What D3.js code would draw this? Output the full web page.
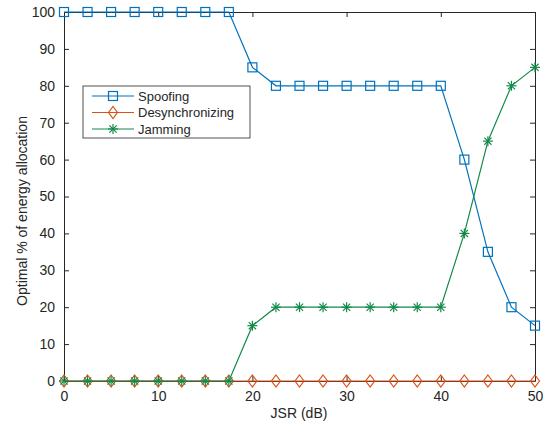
<!DOCTYPE html>
<html>
<head>
<meta charset="utf-8">
<script src="https://cdn.jsdelivr.net/npm/d3@7"></script>
<style>
  body { margin: 0; background: #fff; }
  text { font-family: "Liberation Sans", Arial, sans-serif; }
</style>
</head>
<body>
<div class="canvas"></div>
<script>
// JSR values (dB)
const jsr = [0, 2.5, 5, 7.5, 10, 12.5, 15, 17.5, 20, 22.5, 25, 27.5, 30, 32.5, 35, 37.5, 40, 42.5, 45, 47.5, 50];
const spoofing = [100, 100, 100, 100, 100, 100, 100, 100, 85, 80, 80, 80, 80, 80, 80, 80, 80, 60, 35, 20, 15];
const desync = [0, 0, 0, 0, 0, 0, 0, 0, 0, 0, 0, 0, 0, 0, 0, 0, 0, 0, 0, 0, 0];
const jamming = [0, 0, 0, 0, 0, 0, 0, 0, 15, 20, 20, 20, 20, 20, 20, 20, 20, 40, 65, 80, 85];
const xTicks = [0, 10, 20, 30, 40, 50];
const yTicks = [0, 10, 20, 30, 40, 50, 60, 70, 80, 90, 100];
const seriesNames = ['Spoofing', 'Desynchronizing', 'Jamming'];

const W = 544, H = 424;
const margin = {top: 12, right: 9, bottom: 43, left: 64};
const graphWidth = W - margin.left - margin.right;
const graphHeight = H - margin.top - margin.bottom;

const svg = d3.select('.canvas')
  .append('svg')
    .attr('width', W)
    .attr('height', H);

const graph = svg.append('g')
  .attr('transform', `translate(${margin.left},${margin.top})`);

const x = d3.scaleLinear().domain([0, 50]).range([0, graphWidth]);
const y = d3.scaleLinear().domain([0, 100]).range([graphHeight, 0]);

const axisColor = '#262626';

// axes with inward ticks (box style)
const styleAxis = g => {
  g.select('.domain').attr('stroke', axisColor);
  g.selectAll('.tick line').attr('stroke', axisColor);
  g.selectAll('.tick text').attr('fill', axisColor).style('font-size', '14px');
};
graph.append('g')
  .attr('transform', `translate(0,${graphHeight})`)
  .call(d3.axisBottom(x).tickValues(xTicks).tickSizeInner(-5).tickSizeOuter(0).tickPadding(10))
  .call(styleAxis);
graph.append('g')
  .call(d3.axisLeft(y).tickValues(yTicks).tickSizeInner(-5).tickSizeOuter(0).tickPadding(9))
  .call(styleAxis);
graph.append('g')
  .call(d3.axisTop(x).tickValues(xTicks).tickSizeInner(-5).tickSizeOuter(0).tickFormat(''))
  .call(styleAxis);
graph.append('g')
  .attr('transform', `translate(${graphWidth},0)`)
  .call(d3.axisRight(y).tickValues(yTicks).tickSizeInner(-5).tickSizeOuter(0).tickFormat(''))
  .call(styleAxis);

// axis labels
svg.append('text')
  .attr('x', 299)
  .attr('y', 418)
  .attr('text-anchor', 'middle')
  .attr('fill', axisColor)
  .style('font-size', '14px')
  .text('JSR (dB)');
svg.append('text')
  .attr('transform', 'translate(27,211) rotate(-90)')
  .attr('text-anchor', 'middle')
  .attr('fill', axisColor)
  .style('font-size', '14px')
  .text('Optimal % of energy allocation');

const colors = ['#0072BD', '#D95319', '#138a48'];
const markerShapes = ['square', 'diamond', 'asterisk'];

function drawMarker(g, shape, color) {
  if (shape === 'square') {
    g.append('rect').attr('x', -4.5).attr('y', -4.5).attr('width', 9).attr('height', 9)
      .attr('fill', 'none').attr('stroke', color).attr('stroke-width', 1.2);
  } else if (shape === 'diamond') {
    g.append('path').attr('d', 'M0,-6L4.5,0L0,6L-4.5,0Z')
      .attr('fill', 'none').attr('stroke', color).attr('stroke-width', 1.2);
  } else {
    const r = 5;
    const p = [[0, -r, 0, r], [-r, 0, r, 0], [-3.6, -3.6, 3.6, 3.6], [-3.6, 3.6, 3.6, -3.6]];
    p.forEach(l => g.append('line')
      .attr('x1', l[0]).attr('y1', l[1]).attr('x2', l[2]).attr('y2', l[3])
      .attr('stroke', color).attr('stroke-width', 1.2));
  }
}

const line = d3.line().x((d, i) => x(jsr[i])).y(d => y(d));
const allSeries = [spoofing, desync, jamming];

allSeries.forEach((data, si) => {
  graph.append('path')
    .datum(data)
    .attr('d', line)
    .attr('fill', 'none')
    .attr('stroke', colors[si])
    .attr('stroke-width', 1.2);
  graph.selectAll('.m' + si)
    .data(data)
    .enter()
    .append('g')
      .attr('class', 'm' + si)
      .attr('transform', (d, i) => `translate(${x(jsr[i])},${y(d)})`)
      .each(function() { drawMarker(d3.select(this), markerShapes[si], colors[si]); });
});

// legend
const legend = svg.append('g').attr('transform', 'translate(83,86)');
legend.append('rect')
  .attr('width', 167).attr('height', 52)
  .attr('fill', '#fff').attr('stroke', axisColor).attr('stroke-width', 0.8);
seriesNames.forEach((name, i) => {
  const ly = 10 + i * 16.5;
  const row = legend.append('g').attr('transform', `translate(0,${ly})`);
  row.append('line').attr('x1', 9).attr('x2', 51).attr('y1', 0).attr('y2', 0)
    .attr('stroke', colors[i]).attr('stroke-width', 1.2);
  const mg = row.append('g').attr('transform', 'translate(30,0)');
  drawMarker(mg, markerShapes[i], colors[i]);
  row.append('text').attr('x', 55).attr('y', 4.5)
    .attr('fill', axisColor).style('font-size', '13px').text(name);
});
</script>
</body>
</html>
